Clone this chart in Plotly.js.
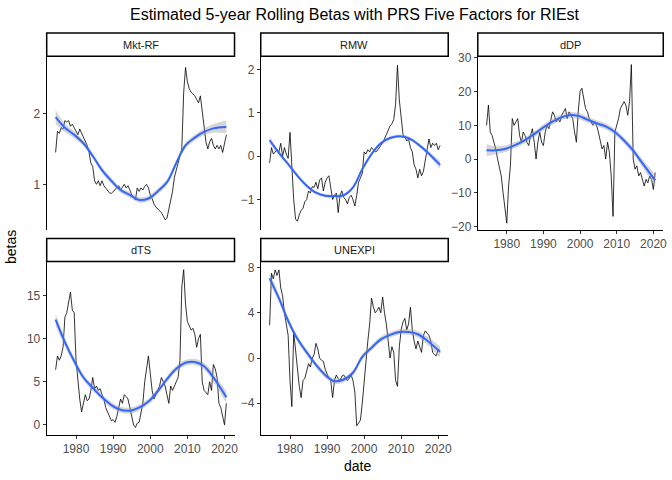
<!DOCTYPE html>
<html>
<head>
<meta charset="utf-8">
<script src="https://cdn.plot.ly/plotly-3.0.1.min.js"></script>
<style>body{margin:0}#chart{width:672px;height:480px}</style>
</head>
<body>
<div id="chart"></div>
<script>
// half-year observations, 1974.5 .. 2020.5
let dates = []
for (let y = 1974.5; y <= 2020.5; y += 0.5) dates.push(y)

let mktrf = [1.45,1.75,1.72,1.8,1.78,1.9,1.88,1.9,1.82,1.85,1.8,1.75,1.7,1.78,1.72,1.65,1.6,1.55,1.45,1.3,1.25,1.05,1.0,1.05,0.98,1.05,0.98,0.95,0.92,0.88,0.87,0.9,0.93,0.95,0.98,0.92,0.97,1.0,0.95,0.98,0.92,0.85,0.82,0.78,0.95,0.9,0.95,0.92,0.97,1.0,0.95,0.85,0.8,0.72,0.68,0.65,0.62,0.6,0.55,0.5,0.52,0.65,0.8,0.9,1.1,1.2,1.3,1.4,1.5,2.3,2.65,2.45,2.35,2.3,2.28,2.25,2.2,2.15,2.25,2.0,1.75,1.6,1.5,1.6,1.65,1.55,1.5,1.55,1.5,1.55,1.45,1.6,1.7]
let rmw = [-0.15,0.2,0.05,0.1,0.15,0.1,0.3,0.0,0.2,0.05,-0.05,0.55,-0.3,-1.0,-1.45,-1.5,-1.35,-1.25,-1.2,-1.05,-1.0,-0.8,-0.85,-0.7,-0.72,-0.6,-0.75,-0.55,-0.5,-0.8,-0.6,-0.5,-0.45,-0.7,-1.0,-0.9,-0.85,-1.3,-0.9,-0.8,-0.95,-1.0,-1.1,-0.95,-0.9,-1.0,-1.15,-0.9,-0.6,-0.5,-0.4,0.1,0.05,0.15,0.1,0.2,0.15,0.1,0.12,0.2,0.25,0.3,0.4,0.5,0.6,0.7,0.75,0.85,1.2,2.1,1.3,0.9,0.5,0.45,0.35,0.4,0.2,0.1,-0.2,-0.3,-0.5,-0.3,-0.45,-0.35,-0.1,0.1,0.4,0.2,0.3,0.25,0.3,0.15,0.25]
let ddp = [10,16,8,7,5,3,0,-3,-5,-10,-14,-19,-8,-2,12,10,11,12,7,5,8,7,5,4,7,9,5,0,5,8,5,4,8,10,9,12,14,13,11,12,11,13,14,15,12,14,13,12,8,5,14,20,21,18,15,14,12,11,10,11,10,8,5,3,4,0,5,2,-5,-17,8,10,12,15,16,17,16,13,17,28,0,-3,-2,-5,-4,-6,-8,-6,-7,-5,-6,-9,-4]
let dts = [6.4,8.0,7.5,8.0,9.0,12.5,13.0,14.5,15.4,13.3,13.0,7.5,5.0,3.0,1.5,2.5,3.5,2.8,3.0,4.0,5.5,4.2,4.5,4.0,4.2,3.5,3.0,2.0,1.5,0.8,0.5,0.6,0.3,1.0,2.0,3.0,2.5,3.5,3.3,3.0,2.0,1.0,0.0,-0.3,0.2,0.3,1.5,2.5,5.0,6.5,8.0,6.0,4.0,3.0,3.5,4.0,4.5,5.5,5.0,4.5,3.5,2.5,4.5,4.0,4.5,5.0,5.5,7.5,16.0,18.0,14.0,12.0,11.5,11.0,11.2,10.5,9.0,10.0,10.5,5.0,4.0,3.8,3.5,5.0,4.0,7.0,6.5,5.5,2.5,2.0,1.0,0.0,2.5]
let unexpi = [2.9,7.5,7.0,7.8,7.3,7.8,6.2,5.5,4.0,3.0,2.0,-2.0,-4.3,2.3,0.5,-1.0,-2.5,-3.5,-2.0,-1.8,-1.2,-0.5,-0.8,0.0,0.3,1.3,0.8,0.0,-0.2,-0.3,-1.0,-1.5,-1.8,-2.0,-3.5,-2.0,-1.5,-1.8,-2.0,-1.6,-1.5,-1.8,-2.0,-1.8,-1.5,-2.0,-3.0,-6.0,-5.8,-5.5,-4.0,-2.0,-0.5,1.5,3.0,5.3,4.5,4.0,4.2,4.5,4.0,5.4,4.0,3.0,1.5,0.0,1.0,0.5,-2.0,-2.5,1.0,2.5,3.2,3.5,2.5,3.0,4.5,2.5,1.5,0.8,1.5,1.0,0.5,2.0,2.4,2.2,2.0,1.5,0.5,0.3,0.2,0.8,0.5]

// loess fits
let smoothDates = [1974.5,1977,1979.5,1982,1984.5,1987,1989.5,1992,1994.5,1997,1999.5,2002,2004.5,2007,2009.5,2012,2014.5,2017,2020.5]
let mktrfFit = [1.95,1.8,1.7,1.58,1.4,1.2,1.05,0.92,0.85,0.78,0.8,0.9,1.03,1.3,1.55,1.66,1.74,1.79,1.81]
let rmwFit = [0.37,0.08,-0.18,-0.45,-0.68,-0.84,-0.91,-0.92,-0.9,-0.72,-0.3,0.05,0.3,0.42,0.46,0.42,0.28,0.1,-0.2]
let ddpFit = [2.6,2.6,3.0,4.0,5.3,7.0,9.0,10.8,12.2,13.0,12.8,11.7,10.6,9.7,8.0,5.5,2.5,-1.2,-6.3]
let dtsFit = [12.2,9.6,7.4,5.5,4.3,3.2,2.3,1.75,1.65,2.0,2.7,3.9,5.3,6.5,7.2,7.3,6.8,5.5,3.2]
let unexpiFit = [7.05,5.3,3.3,1.7,0.5,-0.6,-1.5,-2.05,-1.9,-1.3,0.1,0.9,1.65,2.05,2.3,2.3,2.1,1.55,0.55]

let mktrfSe = [0.1,0.06,0.05,0.04,0.04,0.04,0.04,0.04,0.04,0.04,0.04,0.04,0.04,0.04,0.04,0.04,0.05,0.06,0.09]
let rmwSe = [0.08,0.05,0.04,0.04,0.04,0.04,0.04,0.04,0.04,0.04,0.04,0.04,0.04,0.04,0.04,0.04,0.04,0.05,0.09]
let ddpSe = [1.8,1.2,1.0,0.9,0.9,0.9,0.9,0.9,0.9,0.9,0.9,0.9,0.9,0.9,0.9,0.9,1.0,1.2,1.8]
let dtsSe = [0.7,0.5,0.4,0.35,0.35,0.35,0.35,0.35,0.35,0.35,0.35,0.35,0.35,0.35,0.35,0.35,0.4,0.5,0.7]
let unexpiSe = [0.5,0.35,0.3,0.25,0.25,0.25,0.25,0.25,0.25,0.25,0.25,0.25,0.25,0.25,0.25,0.25,0.3,0.35,0.5]

let panels = [
  {name: 'Mkt-RF', y: mktrf, fit: mktrfFit, se: mktrfSe, range: [0.356,2.81], ticks: [1,2], dx: [0.0695,0.349], dy: [0.521,0.883], xlab: false},
  {name: 'RMW', y: rmw, fit: rmwFit, se: rmwSe, range: [-1.70,2.31], ticks: [-1,0,1,2], dx: [0.388,0.667], dy: [0.521,0.883], xlab: false},
  {name: 'dDP', y: ddp, fit: ddpFit, se: ddpSe, range: [-21,30.5], ticks: [-20,-10,0,10,20,30], dx: [0.711,0.987], dy: [0.521,0.883], xlab: true},
  {name: 'dTS', y: dts, fit: dtsFit, se: dtsSe, range: [-1.16,18.94], ticks: [0,5,10,15], dx: [0.0695,0.349], dy: [0.094,0.455], xlab: true},
  {name: 'UNEXPI', y: unexpi, fit: unexpiFit, se: unexpiSe, range: [-6.8,8.53], ticks: [-4,0,4,8], dx: [0.388,0.667], dy: [0.094,0.455], xlab: true}
]

let traces = []
let shapes = []
let annotations = []
let layout = {
  width: 672, height: 480,
  margin: {l: 0, r: 0, t: 0, b: 0},
  paper_bgcolor: 'white', plot_bgcolor: 'white',
  showlegend: false,
  font: {family: 'Liberation Sans, Arial, sans-serif', size: 12, color: '#4d4d4d'}
}

panels.forEach(function(p, i){
  let n = i + 1
  let xa = n === 1 ? 'x' : 'x' + n
  let ya = n === 1 ? 'y' : 'y' + n
  let lo = p.fit.map((v, k) => v - p.se[k])
  let hi = p.fit.map((v, k) => v + p.se[k])
  traces.push({x: dates, y: p.y, xaxis: xa, yaxis: ya, mode: 'lines', line: {color: 'black', width: 0.8}, hoverinfo: 'skip'})
  traces.push({x: smoothDates, y: lo, xaxis: xa, yaxis: ya, mode: 'lines', line: {width: 0, shape: 'spline'}, hoverinfo: 'skip'})
  traces.push({x: smoothDates, y: hi, xaxis: xa, yaxis: ya, mode: 'lines', line: {width: 0, shape: 'spline'}, fill: 'tonexty', fillcolor: 'rgba(153,153,153,0.4)', hoverinfo: 'skip'})
  traces.push({x: smoothDates, y: p.fit, xaxis: xa, yaxis: ya, mode: 'lines', line: {color: '#3366FF', width: 2, shape: 'spline'}, hoverinfo: 'skip'})

  layout['xaxis' + (n === 1 ? '' : n)] = {
    domain: p.dx, anchor: ya, range: [1972.1, 2022.7],
    tickvals: [1980,1990,2000,2010,2020], showticklabels: p.xlab,
    showline: p.xlab, linecolor: 'black', linewidth: 1,
    ticks: p.xlab ? 'outside' : '', ticklen: 3, tickcolor: '#333',
    showgrid: false, zeroline: false, tickfont: {size: 12, color: '#4d4d4d'}
  }
  layout['yaxis' + (n === 1 ? '' : n)] = {
    domain: p.dy, anchor: xa, range: p.range, tickvals: p.ticks,
    showline: true, linecolor: 'black', linewidth: 1,
    ticks: 'outside', ticklen: 3, tickcolor: '#333',
    showgrid: false, zeroline: false, tickfont: {size: 12, color: '#4d4d4d'}
  }
  let sy0 = p.dy[1]
  let sy1 = p.dy[1] + 0.048
  shapes.push({type: 'rect', xref: 'paper', yref: 'paper', layer: 'below', x0: p.dx[0], x1: p.dx[1], y0: sy0, y1: sy1, line: {color: 'black', width: 1.5}, fillcolor: 'white'})
  annotations.push({xref: 'paper', yref: 'paper', x: (p.dx[0] + p.dx[1]) / 2, y: (sy0 + sy1) / 2, xanchor: 'center', yanchor: 'middle', text: p.name, showarrow: false, font: {size: 11, color: '#1a1a1a'}})
})

annotations.push({xref: 'paper', yref: 'paper', x: 0.528, y: 0.969, xanchor: 'center', yanchor: 'middle', text: 'Estimated 5-year Rolling Betas with PRS Five Factors for RIEst', showarrow: false, font: {size: 16, color: 'black'}})
annotations.push({xref: 'paper', yref: 'paper', x: 0.532, y: 0.029, xanchor: 'center', yanchor: 'middle', text: 'date', showarrow: false, font: {size: 14, color: 'black'}})
annotations.push({xref: 'paper', yref: 'paper', x: 0.016, y: 0.485, xanchor: 'center', yanchor: 'middle', text: 'betas', textangle: -90, showarrow: false, font: {size: 14, color: 'black'}})
layout.shapes = shapes
layout.annotations = annotations

Plotly.newPlot('chart', traces, layout, {displayModeBar: false, staticPlot: true})
</script>
</body>
</html>
